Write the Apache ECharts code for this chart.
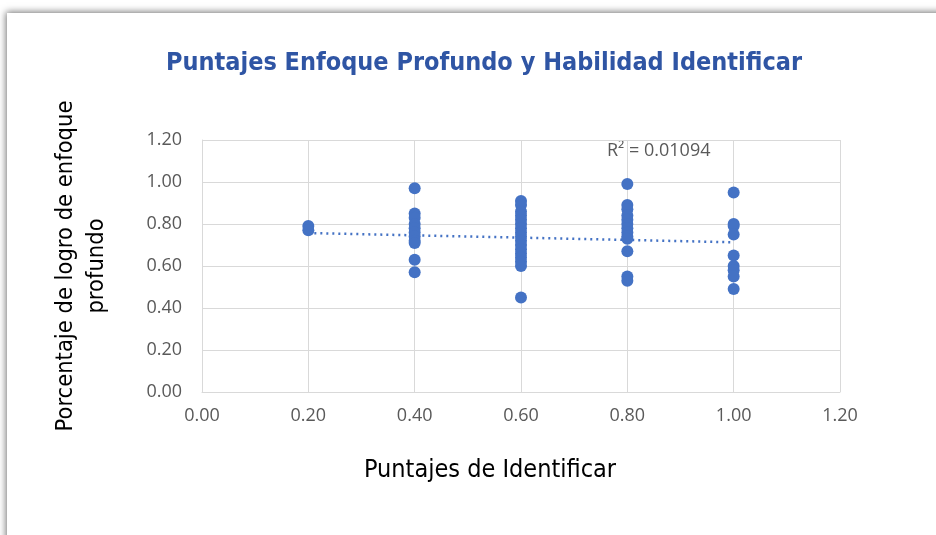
<!DOCTYPE html>
<html><head><meta charset="utf-8">
<script src="https://cdn.jsdelivr.net/npm/echarts@6/dist/echarts.min.js"></script>
<style>
html,body{margin:0;padding:0;background:#fff;overflow:hidden}
#card{position:absolute;left:7px;top:13px;width:960px;height:560px;background:#fff;box-shadow:-1px -1px 7px rgba(0,0,0,0.55)}
#c{position:absolute;left:0;top:0;width:936px;height:535px}
</style></head>
<body><div id="card"></div><div id="c"></div>
<script>
const xTicks = ['0.00','0.20','0.40','0.60','0.80','1.00','1.20'];
const yTicks = ['0.00','0.20','0.40','0.60','0.80','1.00','1.20'];
const yVals02 = [0.79,0.77];
const yVals04 = [0.97,0.85,0.83,0.80,0.78,0.76,0.74,0.72,0.71,0.63,0.57];
const yVals06 = [0.91,0.89,0.86,0.84,0.82,0.80,0.78,0.76,0.74,0.72,0.70,0.68,0.66,0.64,0.62,0.60,0.45];
const yVals08 = [0.99,0.89,0.87,0.84,0.82,0.80,0.78,0.76,0.74,0.73,0.67,0.55,0.53];
const yVals10 = [0.95,0.80,0.79,0.75,0.65,0.60,0.58,0.55,0.49];
const trendX = [0.2,1.0];
const trendY = [0.757,0.713];
const rLabel = 'R² = 0.01094';

const groups = [[0.2,yVals02],[0.4,yVals04],[0.6,yVals06],[0.8,yVals08],[1.0,yVals10]];
const pts = [];
groups.forEach(g=>g[1].forEach(v=>pts.push([g[0],v])));

const chart = echarts.init(document.getElementById('c'));
const lblFont = 'Open Sans';
const nameFont = 'DejaVu Sans Condensed';
chart.setOption({
  backgroundColor:'transparent',
  animation:false,
  title:{text:'Puntajes Enfoque Profundo y Habilidad Identificar',left:479,top:46,textAlign:'center',
    textStyle:{fontFamily:'DejaVu Sans Condensed',fontWeight:'bold',fontSize:25,color:'#2F55A4'}},
  grid:{left:202,right:96,top:140,bottom:143},
  xAxis:{type:'value',min:0,max:1.2,interval:0.2,
    name:'Puntajes de Identificar',nameLocation:'middle',nameGap:66,
    nameTextStyle:{fontFamily:nameFont,fontSize:25,color:'#000',padding:[0,62,0,0]},
    axisLine:{show:true,lineStyle:{color:'#d9d9d9'}},axisTick:{show:false},
    splitLine:{show:true,lineStyle:{color:'#d9d9d9'}},
    axisLabel:{formatter:v=>xTicks[Math.round(v/0.2)],fontFamily:lblFont,fontSize:18,color:'#595959',margin:15}},
  yAxis:{type:'value',min:0,max:1.2,interval:0.2,
    name:'Porcentaje de logro de enfoque\nprofundo',nameLocation:'middle',nameGap:90,
    nameTextStyle:{fontFamily:nameFont,fontSize:23.5,color:'#000',lineHeight:31},
    axisLine:{show:true,lineStyle:{color:'#d9d9d9'}},axisTick:{show:false},
    splitLine:{show:true,lineStyle:{color:'#d9d9d9'}},
    axisLabel:{formatter:v=>yTicks[Math.round(v/0.2)],fontFamily:lblFont,fontSize:18,color:'#595959',margin:20}},
  graphic:[{type:'text',left:607,top:142,style:{text:rLabel,fontFamily:lblFont,fontSize:18,fill:'#595959'}}],
  series:[
    {type:'scatter',data:pts,symbolSize:12,itemStyle:{color:'#4472C4',opacity:1},z:3},
    {type:'line',data:trendX.map((x,i)=>[x,trendY[i]]),symbol:'none',
      lineStyle:{color:'#4472C4',width:2.5,type:[2,4]},z:2}
  ]
});
</script></body></html>
